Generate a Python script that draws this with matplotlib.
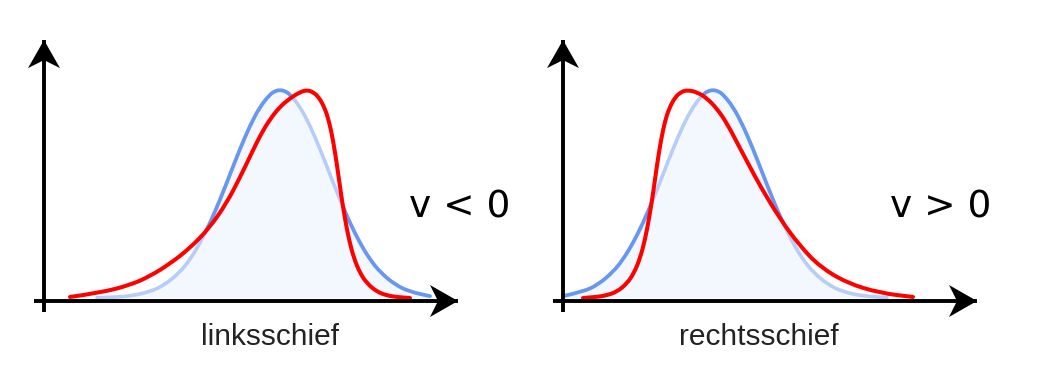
"""
Schiefe einer Verteilung: linksschief vs. rechtsschief.
"""

import matplotlib.pyplot as plt
from matplotlib.patches import Polygon, PathPatch
from matplotlib.path import Path


# ===== DATA (x: Abstand zur y-Achse, y: relative Höhe) =====
# linksschief
blue_left_x = [5.3, 6.6, 8.6, 10.6, 12.1, 13.6, 14.6, 15.6, 16.6, 17.6, 18.6, 19.6,
               20.6, 21.6, 22.6, 23.1, 23.6, 24.1, 24.6, 25.6, 26.6, 27.6, 28.6,
               29.6, 30.6, 31.6, 32.6, 33.6, 35.1, 36.6, 38.6]
blue_left_y = [0.001, 0.003, 0.009, 0.030, 0.064, 0.125, 0.185, 0.264, 0.360, 0.472,
               0.594, 0.717, 0.829, 0.920, 0.979, 0.995, 1.0, 0.995, 0.979, 0.920,
               0.829, 0.717, 0.594, 0.472, 0.360, 0.264, 0.185, 0.125, 0.064, 0.030,
               0.009]
red_left_x = [2.6, 5.6, 8.6, 10.6, 12.6, 14.6, 16.6, 18.3, 19.6, 20.6, 21.6, 22.6,
              23.6, 24.6, 25.6, 26.3, 26.9, 27.5, 28.1, 28.5, 28.9, 29.3, 29.7, 30.1,
              30.5, 31.0, 31.6, 32.3, 33.3, 34.3, 35.4, 36.6]
red_left_y = [0.005, 0.025, 0.062, 0.105, 0.165, 0.24, 0.34, 0.46, 0.58, 0.68, 0.78,
              0.86, 0.92, 0.96, 0.99, 1.0, 0.99, 0.965, 0.91, 0.85, 0.76, 0.64, 0.50,
              0.38, 0.28, 0.19, 0.12, 0.07, 0.03, 0.012, 0.004, 0.0]

# rechtsschief
blue_right_x = [0.0, 2.0, 3.5, 5.0, 6.0, 7.0, 8.0, 9.0, 10.0, 11.0, 12.0, 13.0, 14.0,
                14.5, 15.0, 15.5, 16.0, 17.0, 18.0, 19.0, 20.0, 21.0, 22.0, 23.0,
                24.0, 25.0, 26.5, 28.0, 30.0, 32.4]
blue_right_y = [0.009, 0.030, 0.064, 0.125, 0.185, 0.264, 0.360, 0.472, 0.594, 0.717,
                0.829, 0.920, 0.979, 0.995, 1.0, 0.995, 0.979, 0.920, 0.829, 0.717,
                0.594, 0.472, 0.360, 0.264, 0.185, 0.125, 0.064, 0.030, 0.009, 0.002]
red_right_x = [2.0, 3.2, 4.3, 5.4, 6.4, 7.1, 7.7, 8.2, 8.6, 9.0, 9.4, 9.8, 10.2, 10.6,
               11.2, 11.8, 12.4, 13.4, 14.4, 15.4, 16.4, 17.7, 18.7, 19.7, 21.7, 23.7,
               25.7, 28.4, 31.7, 35.0]
red_right_y = [0.0, 0.004, 0.012, 0.03, 0.07, 0.12, 0.19, 0.28, 0.38, 0.50, 0.64,
               0.76, 0.85, 0.91, 0.965, 0.99, 1.0, 0.99, 0.96, 0.91, 0.84, 0.72, 0.63,
               0.54, 0.38, 0.25, 0.15, 0.072, 0.024, 0.005]

labels = ['linksschief', 'rechtsschief']
signs = ['v < 0', 'v > 0']

# ===== STYLE =====
BLUE = '#6797ee'
BLUE_LIGHT = '#b5cdf8'
FILL = '#f3f7fe'
RED = '#ff0000'

XLIM = (-1.4, 42.6)
YLIM = (-0.0817, 1.2885)
PX_X = 10.0     # px per x unit
PX_Y = 208.0    # px per y unit


def smooth_path(xs, ys):
    """Path through the points, drawn with quadratic Bezier segments."""
    pts = list(zip(xs, ys))
    verts = [pts[0]]
    codes = [Path.MOVETO]
    for i in range(1, len(pts) - 1):
        mid = ((pts[i][0] + pts[i + 1][0]) / 2, (pts[i][1] + pts[i + 1][1]) / 2)
        verts += [pts[i], mid]
        codes += [Path.CURVE3, Path.CURVE3]
    verts.append(pts[-1])
    codes.append(Path.LINETO)
    return verts, codes


def curve_patch(xs, ys, color, lw, zorder):
    verts, codes = smooth_path(xs, ys)
    return PathPatch(Path(verts, codes), fill=False, edgecolor=color, lw=lw,
                     capstyle='round', joinstyle='round', zorder=zorder)


def draw_arrow(ax, x0, y0, x1, y1, vertical):
    """Axis line with a notched arrow head."""
    ax.plot([x0, x1], [y0, y1], color='black', lw=2.8, solid_capstyle='butt',
            zorder=5, clip_on=False)
    length, half, notch = 28, 16, 8
    if vertical:
        pts = [(x1, y1),
               (x1 - half / PX_X, y1 - length / PX_Y),
               (x1, y1 - (length - notch) / PX_Y),
               (x1 + half / PX_X, y1 - length / PX_Y)]
    else:
        pts = [(x1, y1),
               (x1 - length / PX_X, y1 + half / PX_Y),
               (x1 - (length - notch) / PX_X, y1),
               (x1 - length / PX_X, y1 - half / PX_Y)]
    ax.add_patch(Polygon(pts, closed=True, color='black', lw=0,
                         zorder=6, clip_on=False))


def draw_panel(ax, bx, by, rx, ry):
    ax.set_xlim(*XLIM)
    ax.set_ylim(*YLIM)
    ax.axis('off')

    # fill under normal curve
    verts, codes = smooth_path(bx, by)
    verts = verts + [(bx[-1], 0), (bx[0], 0), (bx[0], by[0])]
    codes = codes + [Path.LINETO, Path.LINETO, Path.CLOSEPOLY]
    ax.add_patch(PathPatch(Path(verts, codes), facecolor=FILL, lw=0, zorder=1))

    # light blue where it lies below the red curve, stronger blue above
    ax.add_patch(curve_patch(bx, by, BLUE_LIGHT, 2.6, 2))
    strong = ax.add_patch(curve_patch(bx, by, BLUE, 2.6, 3))
    rv, rc = smooth_path(rx, ry)
    region_v = ([(XLIM[0], -0.3), (rx[0], -0.3)] + rv
                + [(rx[-1], -0.3), (XLIM[1], -0.3), (XLIM[1], 2), (XLIM[0], 2),
                   (XLIM[0], -0.3)])
    region_c = ([Path.MOVETO, Path.LINETO, Path.LINETO] + rc[1:]
                + [Path.LINETO] * 4 + [Path.CLOSEPOLY])
    clip = PathPatch(Path(region_v, region_c), transform=ax.transData)
    strong.set_clip_path(clip)

    ax.add_patch(curve_patch(rx, ry, RED, 2.9, 4))

    # axes with arrows
    y_axis = -3.0 / PX_Y
    draw_arrow(ax, 0, -14 / PX_Y, 0, 1.240, vertical=True)
    draw_arrow(ax, -0.95, y_axis, 41.4, y_axis, vertical=False)


fig = plt.figure(figsize=(10.42, 3.72), dpi=100, facecolor='white')
ax1 = fig.add_axes([0.02879, 0.15323, 0.42226, 0.76613])
ax2 = fig.add_axes([0.52687, 0.15323, 0.42226, 0.76613])

draw_panel(ax1, blue_left_x, blue_left_y, red_left_x, red_left_y)
draw_panel(ax2, blue_right_x, blue_right_y, red_right_x, red_right_y)

fig.text(0.2590, 0.094, labels[0], ha='center', va='center',
         fontsize=21.5, family='Liberation Sans', color='#222222')
fig.text(0.7285, 0.094, labels[1], ha='center', va='center',
         fontsize=21.5, family='Liberation Sans', color='#222222')
fig.text(0.4415, 0.4435, signs[0], ha='center', va='center',
         fontsize=27, family='DejaVu Sans', color='black')
fig.text(0.903, 0.4435, signs[1], ha='center', va='center',
         fontsize=27, family='DejaVu Sans', color='black')

fig.savefig('out.png', dpi=100, facecolor='white')
plt.close(fig)
